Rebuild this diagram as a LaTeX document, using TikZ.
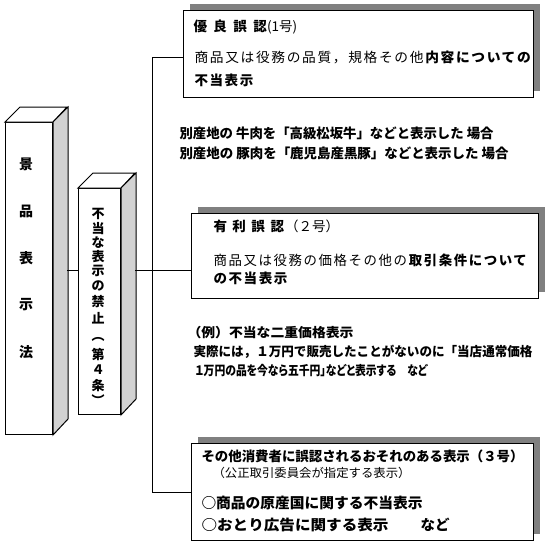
\documentclass[tikz,border=0pt]{standalone}
\usepackage{fontspec}
\setmainfont{Noto Sans CJK JP}
\usetikzlibrary{shadows}
\newcommand{\fitw}[2]{\resizebox{#1}{\height}{#2}}
\newcommand{\spc}{\addfontfeature{LetterSpace=12}}
\newcommand{\prop}{\addfontfeature{RawFeature=+palt}}
\definecolor{sidegray}{HTML}{D2D2D2}
\definecolor{shadowgray}{HTML}{808080}
\begin{document}
\begin{tikzpicture}[x=1pt,y=-1pt,line width=1pt,
  infobox/.style={draw=black,fill=white,anchor=north west,inner sep=0pt,
    drop shadow={shadow xshift=6pt,shadow yshift=7pt,fill=shadowgray,opacity=1}},
  prism/.style={draw=black,fill=white,anchor=north west,inner sep=0pt},
  face/.style={draw=black,fill=white,line join=miter},
  side/.style={draw=black,fill=sidegray,line join=miter},
  txt/.style={anchor=base west,inner sep=0pt,font=\fontsize{13.5}{15}\selectfont},
  vch/.style={inner sep=0pt,font=\fontsize{13}{13}\selectfont\bfseries},
  lch/.style={inner sep=0pt,font=\fontsize{14}{14}\selectfont\bfseries}]
\useasboundingbox (0,0) rectangle (548,544);

% left prism
\node[prism,minimum width=47pt,minimum height=312pt] (law) at (5,122) {};
\draw[face] (law.north west) -- ++(15,-15) -- ++(47,0) -- (law.north east) -- cycle;
\draw[side] (law.north east) -- ++(15,-15) -- ++(0,312) -- (law.south east) -- cycle;
\foreach \c/\yy [count=\i] in {景/164,品/211,表/258,示/305,法/352}
  \node[lch] (k\i) at (26,\yy) {\c};

% second prism
\node[prism,minimum width=42pt,minimum height=226pt] (ban) at (78,188) {};
\draw[face] (ban.north west) -- ++(15,-15) -- ++(42,0) -- (ban.north east) -- cycle;
\draw[side] (ban.north east) -- ++(15,-15) -- ++(0,226) -- (ban.south east) -- cycle;
\foreach \c/\yy [count=\i] in {不/214,当/229,な/243,表/257,示/271,の/286,禁/302,止/318,︵/339,第/354,４/370,条/386,︶/400}
  \node[vch] (v\i) at (98,\yy) {\c};

% info boxes
\node[infobox,minimum width=350pt,minimum height=87pt] (b1) at (183,10) {};
\node[infobox,minimum width=347pt,minimum height=85pt] (b2) at (191,213) {};
\node[infobox,minimum width=342pt,minimum height=97pt] (b3) at (191,443) {};

% connectors
\coordinate (jl) at (67,270);
\draw (jl) -- (jl -| ban.west);
\coordinate (jr) at (135,270);
\coordinate (tm) at (152,270);
\draw (jr) -- (tm);
\coordinate (ttop) at (152,57);
\coordinate (tbot) at (152,492);
\draw (ttop) -- (tbot);
\draw (ttop) -- (ttop -| b1.west);
\draw (tm) -- (tm -| b2.west);
\draw (tbot) -- (tbot -| b3.west);

% box 1 text
\node[txt,font=\fontsize{13.5}{15}\selectfont] (b1a) at (193,31)
  {\textbf{優}\hspace{6.5pt}\textbf{良}\hspace{6.5pt}\textbf{誤}\hspace{6.5pt}\textbf{認}(1号)};
\node[txt] (b1b) at (194,62) {\fitw{338pt}{\spc 商品又は役務の品質，規格その他\textbf{内容についての}}};
\node[txt] (b1c) at (194,85) {\spc\bfseries 不当表示};

% middle text
\node[txt] (m1) at (179,138) {\fitw{314pt}{\bfseries 別産地の 牛肉を「高級松坂牛」などと表示した 場合}};
\node[txt] (m2) at (179,158) {\fitw{329pt}{\bfseries 別産地の 豚肉を「鹿児島産黒豚」などと表示した 場合}};

% box 2 text
\node[txt,font=\fontsize{13.5}{15}\selectfont] (b2a) at (213,231)
  {\textbf{有}\hspace{5.5pt}\textbf{利}\hspace{5.5pt}\textbf{誤}\hspace{5.5pt}\textbf{認}\hspace{1pt}（２号）};
\node[txt] (b2b) at (213,265) {\fitw{315pt}{\spc 商品又は役務の価格その他の\textbf{取引条件について}}};
\node[txt] (b2c) at (213,283) {\spc\bfseries の不当表示};

% example text
\node[txt,font=\fontsize{13}{15}\selectfont] (e1) at (187,337) {\fitw{166pt}{\bfseries （例）不当な二重価格表示}};
\node[txt,font=\fontsize{13}{15}\selectfont] (e2) at (193,356) {\fitw{339pt}{\bfseries 実際には，１万円で販売したことがないのに「当店通常価格}};
\node[txt,font=\fontsize{13}{15}\selectfont] (e3) at (195,375) {\fitw{232pt}{\bfseries\prop １万円の品を今なら五千円」などと表示する　など}};

% box 3 text
\node[txt] (c1) at (201,461) {\fitw{322pt}{\bfseries その他消費者に誤認されるおそれのある表示（３号）}};
\node[txt,font=\fontsize{12}{14}\selectfont] (c2) at (212,477) {\fitw{198pt}{（公正取引委員会が指定する表示）}};
\node[txt,font=\fontsize{14.5}{16}\selectfont] (c3) at (201,508.5) {\fitw{221pt}{\bfseries ○商品の原産国に関する不当表示}};
\node[txt,font=\fontsize{14.5}{16}\selectfont] (c4) at (201,530.5) {\fitw{187pt}{\bfseries ○おとり広告に関する表示}\hspace{32pt}\textbf{など}};
\end{tikzpicture}
\end{document}
